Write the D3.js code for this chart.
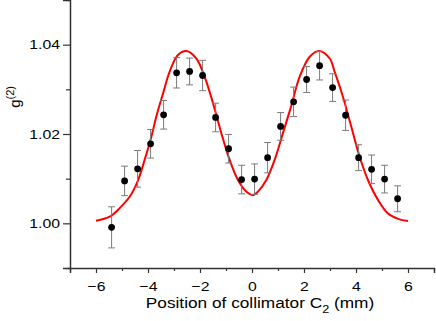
<!DOCTYPE html>
<html>
<head>
<meta charset="utf-8">
<script src="https://cdn.jsdelivr.net/npm/d3@7"></script>
<style>
  body { margin: 0; background: #fff; }
  text { font-family: "Liberation Sans", Arial, sans-serif; fill: #000; }
</style>
</head>
<body>
<div id="chart"></div>
<script>
// measured points: collimator position (mm), g2, error
var posX = [-5.4, -4.9, -4.4, -3.9, -3.4, -2.9, -2.4, -1.9, -1.4, -0.9, -0.4, 0.1,
            0.6, 1.1, 1.6, 2.1, 2.6, 3.1, 3.6, 4.1, 4.6, 5.1, 5.6];
var g2 = [0.9991, 1.0095, 1.0122, 1.0178, 1.0243, 1.0337, 1.0340, 1.0331, 1.0237, 1.0167, 1.0098, 1.0099,
          1.0147, 1.0217, 1.0272, 1.0322, 1.0353, 1.0304, 1.0242, 1.0147, 1.0121, 1.0099, 1.0055];
var g2Err = [0.0046, 0.0033, 0.0041, 0.0032, 0.0032, 0.0034, 0.0030, 0.0034, 0.0032, 0.0032, 0.0032, 0.0034,
             0.0034, 0.0031, 0.0033, 0.0029, 0.0032, 0.0031, 0.0034, 0.0029, 0.0032, 0.0031, 0.0029];

// fitted curve
var fitX = [-6.0, -5.47, -5.09, -4.70, -4.38, -4.13, -3.87, -3.68, -3.42, -3.17, -2.85, -2.52, -2.14, -1.82,
            -1.50, -1.18, -0.86, -0.54, -0.22, 0.04, 0.23, 0.55, 0.87, 1.19, 1.52, 1.83, 2.22, 2.58, 2.99,
            3.18, 3.50, 3.82, 4.14, 4.46, 4.85, 5.23, 5.62, 6.0];
var fitY = [1.0006, 1.0015, 1.0034, 1.0060, 1.0097, 1.0142, 1.0194, 1.0239, 1.0291, 1.0339, 1.0377, 1.0386,
            1.0369, 1.0328, 1.0269, 1.0202, 1.0142, 1.0097, 1.0071, 1.0063, 1.0071, 1.0097, 1.0142, 1.0202,
            1.0265, 1.0328, 1.0373, 1.0386, 1.0369, 1.0339, 1.0283, 1.0216, 1.0149, 1.0097, 1.0052, 1.0022,
            1.0010, 1.0005];

var xMajor = [-6, -4, -2, 0, 2, 4, 6];
var xMinor = [-7, -5, -3, -1, 1, 3, 5, 7];
var yMajor = [1.00, 1.02, 1.04];
var yMinor = [0.99, 1.01, 1.03, 1.05];

var width = 436, height = 321;
var margin = {left: 70, right: 2, top: 0, bottom: 53};
var stretch = 1.17; // text in the picture is a bit wide

var svg = d3.select("#chart").append("svg")
    .attr("width", width)
    .attr("height", height);

var x = d3.scaleLinear().domain([-7, 7]).range([margin.left, width - margin.right]);
var y = d3.scaleLinear().domain([0.99, 1.05]).range([height - margin.bottom, margin.top]);

// axes
svg.append("g")
    .attr("transform", "translate(0," + y(0.99) + ")")
    .call(d3.axisBottom(x).tickValues(xMajor).tickSize(5).tickPadding(8).tickFormat(d3.format("d")));
svg.append("g")
    .attr("transform", "translate(0," + y(0.99) + ")")
    .call(d3.axisBottom(x).tickValues(xMinor).tickSize(3).tickFormat(""))
    .select(".domain").remove();

var yAxis = svg.append("g")
    .attr("transform", "translate(" + x(-7) + ",0)")
    .call(d3.axisLeft(y).tickValues(yMajor).tickSize(7).tickPadding(3).tickFormat(d3.format(".2f")));
svg.append("g")
    .attr("transform", "translate(" + x(-7) + ",0)")
    .call(d3.axisLeft(y).tickValues(yMinor).tickSize(4).tickFormat(""))
    .select(".domain").remove();

svg.selectAll(".domain").attr("stroke", "#333").attr("stroke-width", 1.5);
svg.selectAll(".tick line").attr("stroke", "#333").attr("stroke-width", 1.2);
svg.selectAll(".tick text")
    .style("font-size", "13.5px")
    .style("font-family", "Liberation Sans, Arial, sans-serif")
    .attr("transform", "scale(" + stretch + ",1)");
yAxis.selectAll(".tick text").attr("x", -10 / stretch);

// axis titles
var xt = svg.append("g")
    .attr("transform", "translate(260,308) scale(1.15,1)")
    .append("text")
    .attr("text-anchor", "middle")
    .style("font-size", "15px");
xt.append("tspan").text("Position of collimator C");
xt.append("tspan").attr("dy", 5).style("font-size", "11px").text("2");
xt.append("tspan").attr("dy", -5).text(" (mm)");

var yt = svg.append("text")
    .attr("transform", "translate(20," + y(1.0283) + ") rotate(-90)")
    .attr("text-anchor", "middle")
    .style("font-size", "15px");
yt.append("tspan").text("g");
yt.append("tspan").attr("dy", -6).style("font-size", "11px").text("(2)");

// fit line
var fitData = fitX.map(function(d, i){ return {x: d, y: fitY[i]}; });
var line = d3.line()
    .x(function(d){ return x(d.x); })
    .y(function(d){ return y(d.y); })
    .curve(d3.curveCatmullRom);
svg.append("path")
    .datum(fitData)
    .attr("d", line)
    .attr("fill", "none")
    .attr("stroke", "#ff0000")
    .attr("stroke-width", 2);

// data points with error bars
var pts = posX.map(function(d, i){ return {x: d, y: g2[i], e: g2Err[i]}; });
var eb = svg.append("g").attr("stroke", "#7a7a7a").attr("stroke-width", 1);
eb.selectAll("line.v").data(pts).enter().append("line")
    .attr("x1", function(d){ return x(d.x); })
    .attr("x2", function(d){ return x(d.x); })
    .attr("y1", function(d){ return y(d.y - d.e); })
    .attr("y2", function(d){ return y(d.y + d.e); });
eb.selectAll("line.t").data(pts).enter().append("line")
    .attr("x1", function(d){ return x(d.x) - 3.4; })
    .attr("x2", function(d){ return x(d.x) + 3.4; })
    .attr("y1", function(d){ return y(d.y + d.e); })
    .attr("y2", function(d){ return y(d.y + d.e); });
eb.selectAll("line.b").data(pts).enter().append("line")
    .attr("x1", function(d){ return x(d.x) - 3.4; })
    .attr("x2", function(d){ return x(d.x) + 3.4; })
    .attr("y1", function(d){ return y(d.y - d.e); })
    .attr("y2", function(d){ return y(d.y - d.e); });

svg.append("g").selectAll("circle").data(pts).enter().append("circle")
    .attr("cx", function(d){ return x(d.x); })
    .attr("cy", function(d){ return y(d.y); })
    .attr("r", 3.4)
    .attr("fill", "#000");
</script>
</body>
</html>
